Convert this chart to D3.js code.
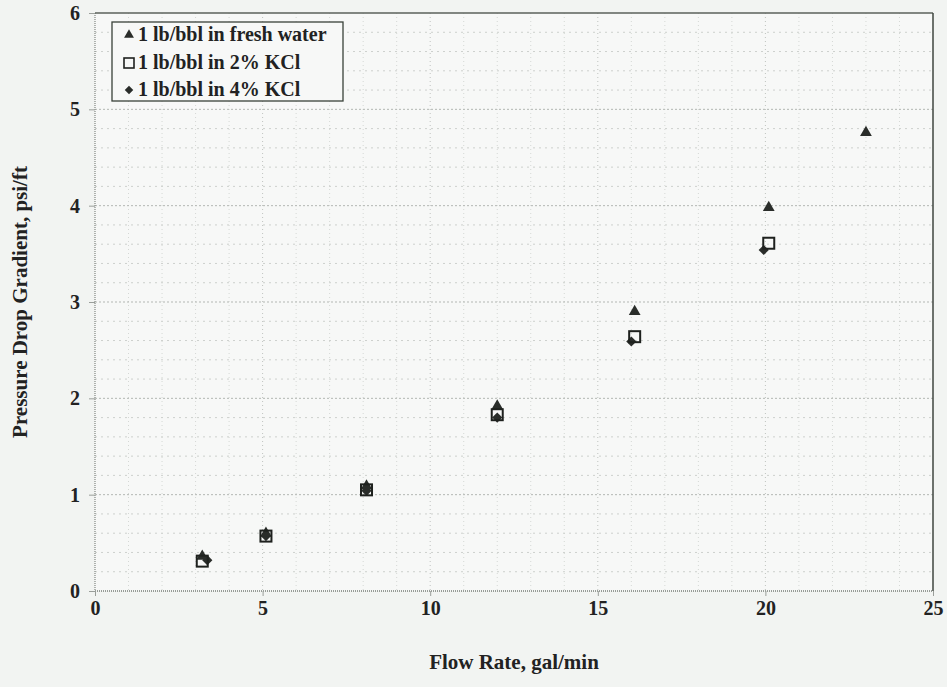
<!DOCTYPE html>
<html>
<head>
<meta charset="utf-8">
<script src="https://cdn.jsdelivr.net/npm/d3@7"></script>
<style>
  html, body { margin: 0; padding: 0; background: #f2f4f2; }
  svg text { font-family: "Liberation Serif", "Times New Roman", serif; font-weight: bold; fill: #222; }
</style>
</head>
<body>
<svg id="chart" width="947" height="687"></svg>
<script>
// Flow rate (gal/min) and pressure drop gradient (psi/ft) for each fluid
const freshFlow = [3.2, 5.1, 8.1, 12.0, 16.1, 20.1, 23.0];
const freshGrad = [0.37, 0.61, 1.10, 1.93, 2.91, 3.99, 4.77];
const kcl2Flow = [3.2, 5.1, 8.1, 12.0, 16.1, 20.1];
const kcl2Grad = [0.31, 0.57, 1.05, 1.83, 2.64, 3.61];
const kcl4Flow = [3.35, 5.1, 8.1, 12.0, 16.0, 19.95];
const kcl4Grad = [0.32, 0.57, 1.04, 1.80, 2.59, 3.54];

const seriesNames = ["1 lb/bbl in fresh water", "1 lb/bbl in 2% KCl", "1 lb/bbl in 4% KCl"];
const xTicks = [0, 5, 10, 15, 20, 25];
const yTicks = [0, 1, 2, 3, 4, 5, 6];

const svg = d3.select("#chart");
const m = { left: 95, right: 933, top: 13, bottom: 591 };

const x = d3.scaleLinear().domain([0, 25]).range([m.left, m.right]);
const y = d3.scaleLinear().domain([0, 6]).range([m.bottom, m.top]);

// plot area
svg.append("rect")
  .attr("x", m.left).attr("y", m.top)
  .attr("width", m.right - m.left).attr("height", m.bottom - m.top)
  .attr("fill", "#f7f8f7");

// minor grid
const grid = svg.append("g");
grid.selectAll("line.vx").data(d3.range(1, 25)).join("line")
  .attr("x1", d => x(d)).attr("x2", d => x(d))
  .attr("y1", m.top).attr("y2", m.bottom)
  .attr("stroke", d => d % 5 === 0 ? "#bfc3bf" : "#d5d8d5")
  .attr("stroke-width", 1)
  .attr("stroke-dasharray", "1,3");
grid.selectAll("line.hy").data(d3.range(1, 30).map(i => i * 0.2)).join("line")
  .attr("x1", m.left).attr("x2", m.right)
  .attr("y1", d => y(d)).attr("y2", d => y(d))
  .attr("stroke", d => Math.abs(d - Math.round(d)) < 1e-6 ? "#b3b7b3" : "#cdd0cd")
  .attr("stroke-width", 1)
  .attr("stroke-dasharray", d => Math.abs(d - Math.round(d)) < 1e-6 ? "2,2" : "2,4");

// frame: dotted left/bottom, solid top/right
svg.append("line").attr("x1", m.left).attr("x2", m.right).attr("y1", m.bottom).attr("y2", m.bottom)
  .attr("stroke", "#7a7f7a").attr("stroke-width", 1.3).attr("stroke-dasharray", "1,1");
svg.append("line").attr("x1", m.left).attr("x2", m.left).attr("y1", m.top).attr("y2", m.bottom)
  .attr("stroke", "#8a8f8a").attr("stroke-width", 1.3).attr("stroke-dasharray", "1,1");
svg.append("line").attr("x1", m.left).attr("x2", m.right).attr("y1", m.top).attr("y2", m.top)
  .attr("stroke", "#5b625b").attr("stroke-width", 1.5);
svg.append("line").attr("x1", m.right).attr("x2", m.right).attr("y1", m.top).attr("y2", m.bottom)
  .attr("stroke", "#3f463f").attr("stroke-width", 1.5);

// axes
const xAxis = d3.axisBottom(x).tickValues(xTicks).tickSize(5).tickPadding(5).tickFormat(d3.format("d"));
const gx = svg.append("g").attr("transform", `translate(0,${m.bottom})`).call(xAxis);
gx.select(".domain").remove();
gx.selectAll(".tick line").attr("stroke", "#9a9e9a");
gx.selectAll(".tick text").attr("font-size", 20).style("fill", "#222");

const yAxis = d3.axisLeft(y).tickValues(yTicks).tickSize(6).tickPadding(9).tickFormat(d3.format("d"));
const gy = svg.append("g").attr("transform", `translate(${m.left},0)`).call(yAxis);
gy.select(".domain").remove();
gy.selectAll(".tick line").attr("stroke", "#9a9e9a");
gy.selectAll(".tick text").attr("font-size", 20).style("fill", "#222");

// axis titles
svg.append("text").attr("x", 514).attr("y", 669).attr("text-anchor", "middle")
  .attr("font-size", 21).text("Flow Rate, gal/min");
svg.append("text").attr("transform", "translate(27,302) rotate(-90)").attr("text-anchor", "middle")
  .attr("font-size", 21).text("Pressure Drop Gradient, psi/ft");

// markers
const tri = d3.symbol().type(d3.symbolTriangle).size(60);
const dia = d3.symbol().type(d3.symbolSquare).size(52);

const pts = svg.append("g");
pts.selectAll("path.k4").data(d3.zip(kcl4Flow, kcl4Grad)).join("path")
  .attr("transform", d => `translate(${x(d[0])},${y(d[1])}) rotate(45)`)
  .attr("d", dia()).attr("fill", "#2a2d2a");
pts.selectAll("path.fw").data(d3.zip(freshFlow, freshGrad)).join("path")
  .attr("transform", d => `translate(${x(d[0])},${y(d[1]) + 1})`)
  .attr("d", tri()).attr("fill", "#2a2d2a");
pts.selectAll("rect.k2").data(d3.zip(kcl2Flow, kcl2Grad)).join("rect")
  .attr("x", d => x(d[0]) - 5.5).attr("y", d => y(d[1]) - 5.5)
  .attr("width", 11).attr("height", 11)
  .attr("fill", "none").attr("stroke", "#1e211e").attr("stroke-width", 2);

// legend
const lg = svg.append("g");
lg.append("rect").attr("x", 112).attr("y", 22).attr("width", 231).attr("height", 79)
  .attr("fill", "#f7f8f7").attr("stroke", "#3a413a").attr("stroke-width", 1.3);
const rows = [35, 63, 90];
lg.append("path").attr("transform", `translate(129,${rows[0]})`)
  .attr("d", d3.symbol().type(d3.symbolTriangle).size(42)()).attr("fill", "#2a2d2a");
lg.append("rect").attr("x", 124).attr("y", rows[1] - 5).attr("width", 10).attr("height", 10)
  .attr("fill", "none").attr("stroke", "#1e211e").attr("stroke-width", 1.6);
lg.append("path").attr("transform", `translate(129,${rows[2]}) rotate(45)`)
  .attr("d", d3.symbol().type(d3.symbolSquare).size(36)()).attr("fill", "#2a2d2a");
lg.selectAll("text").data(seriesNames).join("text")
  .attr("x", 138).attr("y", (d, i) => rows[i] + 6)
  .attr("font-size", 20).text(d => d);
</script>
</body>
</html>
